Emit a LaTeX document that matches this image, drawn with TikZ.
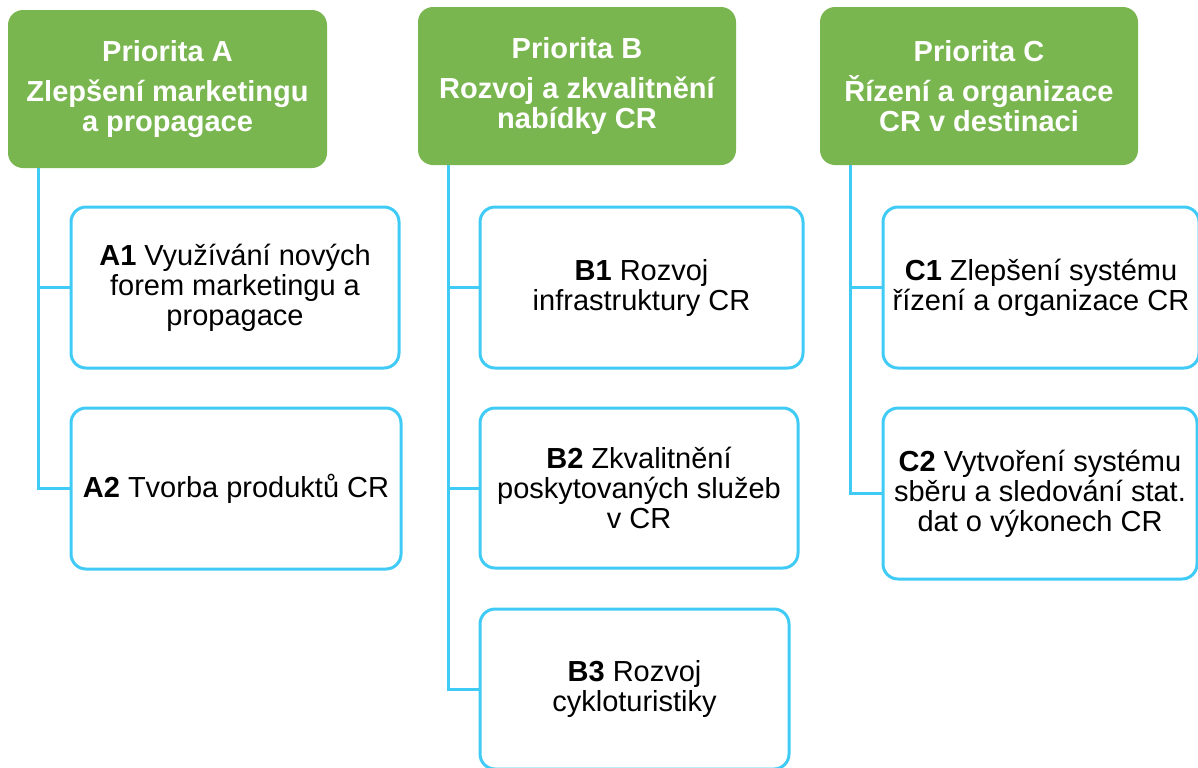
\documentclass[tikz,border=0pt]{standalone}
\usepackage{fontspec}
\setmainfont{Liberation Sans}
\definecolor{prigreen}{HTML}{7AB650}
\definecolor{linkblue}{HTML}{3FCBF5}

\begin{document}
\begin{tikzpicture}[x=0.5pt, y=-0.5pt,
        prio/.style={fill=prigreen, rounded corners=7.5pt, text=white, align=center, inner sep=0pt,
            font=\fontsize{14.5}{15}\selectfont\bfseries, minimum width=159pt, minimum height=79pt},
        goal/.style={draw=linkblue, line width=1.5pt, fill=white, rounded corners=7.5pt, align=center, inner sep=0pt,
            font=\fontsize{14.5}{15}\selectfont},
        link/.style={draw=linkblue, line width=1.5pt}]
        \useasboundingbox (0,0) rectangle (1198,767);
        % priorities
        \node[prio, minimum width=159.5pt] (hA) at (167.5,89) {Priorita A\\[5pt]Zlepšení marketingu\\a propagace};
        \node[prio] (hB) at (577,86) {Priorita B\\[5pt]Rozvoj a zkvalitnění\\nabídky CR};
        \node[prio] (hC) at (979,86) {Priorita C\\[5pt]Řízení a organizace\\CR v destinaci};
        % goals
        \node[goal, minimum width=164pt, minimum height=80.5pt] (a1) at (235,287.5) {\textbf{A1} Využívání nových\\forem marketingu a\\propagace};
        \node[goal, minimum width=165pt, minimum height=80.5pt] (a2) at (236,488.5) {\textbf{A2} Tvorba produktů CR};
        \node[goal, minimum width=161.5pt, minimum height=80.5pt] (b1) at (641.5,287.5) {\textbf{B1} Rozvoj\\infrastruktury CR};
        \node[goal, minimum width=159pt, minimum height=80pt] (b2) at (639,488) {\textbf{B2} Zkvalitnění\\poskytovaných služeb\\v CR};
        \node[goal, minimum width=154.5pt, minimum height=80pt] (b3) at (634.5,689) {\textbf{B3} Rozvoj\\cykloturistiky};
        \node[goal, minimum width=158pt, minimum height=80.5pt] (c1) at (1041,287.5) {\textbf{C1} Zlepšení systému\\řízení a organizace CR};
        \node[goal, minimum width=157pt, minimum height=85.5pt] (c2) at (1040,493.5) {\textbf{C2} Vytvoření systému\\sběru a sledování stat.\\dat o výkonech CR};
        % links
        \draw[link] ([xshift=15.5pt]hA.south west) |- (a1.west);
        \draw[link] ([xshift=15.5pt]hA.south west) |- (a2.west);
        \draw[link] ([xshift=15.5pt]hB.south west) |- (b1.west);
        \draw[link] ([xshift=15.5pt]hB.south west) |- (b2.west);
        \draw[link] ([xshift=15.5pt]hB.south west) |- (b3.west);
        \draw[link] ([xshift=15.5pt]hC.south west) |- (c1.west);
        \draw[link] ([xshift=15.5pt]hC.south west) |- (c2.west);
\end{tikzpicture}
\end{document}
